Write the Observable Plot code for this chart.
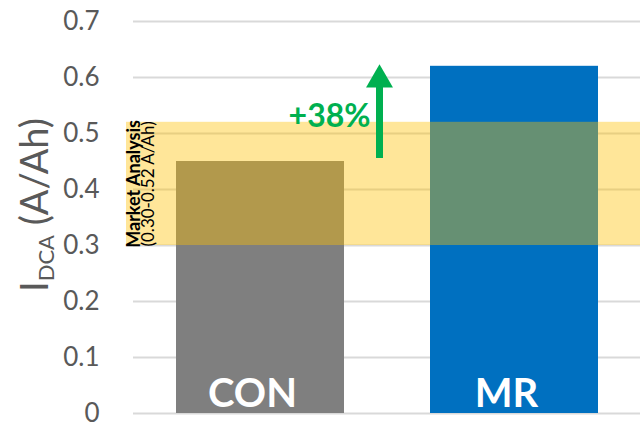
<!DOCTYPE html>
<html>
<head>
<meta charset="utf-8">
<script src="https://cdn.jsdelivr.net/npm/d3@7"></script>
<script src="https://cdn.jsdelivr.net/npm/@observablehq/plot@0.6"></script>
<style>
  html, body { margin: 0; padding: 0; background: #ffffff; }
  #chart { width: 640px; height: 428px; }
</style>
</head>
<body>
<div id="chart"></div>
<script>
// ---- data ----
const categories = ["CON", "MR"];
const values = [0.45, 0.62];
const marketRange = [0.30, 0.52];
const marketLabel = ["Market Analysis", "(0.30-0.52 A/Ah)"];
const yTicks = [0, 0.1, 0.2, 0.3, 0.4, 0.5, 0.6, 0.7];
const yTickLabels = ["0", "0.1", "0.2", "0.3", "0.4", "0.5", "0.6", "0.7"];
const increaseLabel = "+38%";
const increaseFrom = 0.45;
const increaseTo = 0.62;

// ---- styles ----
const barColors = ["#7f7f7f", "#0070c0"];
const green = "#00b050";
const font = "Lato, 'Open Sans', sans-serif";

const bars = categories.map((c, i) => ({category: c, value: values[i]}));
const band = [{lo: marketRange[0], hi: marketRange[1]}];
const arrow = [{category: categories[0], from: increaseFrom, to: increaseTo, label: increaseLabel}];

const plot = Plot.plot({
  width: 640,
  height: 428,
  marginTop: 21,
  marginBottom: 15,
  marginLeft: 133,
  marginRight: 0,
  style: {fontFamily: font, background: "white", overflow: "visible"},
  x: {domain: categories, paddingInner: 0.339, paddingOuter: 0.165, axis: null},
  y: {domain: [0, 0.7], axis: null},
  color: {domain: categories, range: barColors},
  marks: [
    Plot.gridY(yTicks, {stroke: "#d9d9d9", strokeOpacity: 1, strokeWidth: 2}),
    Plot.axisY(yTicks, {
      tickSize: 0, tickPadding: 34, fontSize: 26, fill: "#595959",
      tickFormat: (d) => yTickLabels[yTicks.indexOf(d)]
    }),
    Plot.barY(bars, {x: "category", y: "value", fill: "category"}),
    Plot.rectY(band, {y1: "lo", y2: "hi", fill: "#ffc000", fillOpacity: 0.4, insetLeft: -7}),
    Plot.text(band, {
      y: (d) => (d.lo + d.hi) / 2, frameAnchor: "left", textAnchor: "middle",
      text: () => marketLabel[0],
      rotate: -90, fontSize: 18, fontWeight: "bold", fill: "#000", dx: 0.5
    }),
    Plot.text(band, {
      y: (d) => (d.lo + d.hi) / 2, frameAnchor: "left", textAnchor: "middle",
      text: () => marketLabel[1],
      rotate: -90, fontSize: 17, fill: "#000", dx: 15
    }),
    Plot.text(bars, {
      x: "category", y: 0, text: "category", fill: "white", fontSize: 40,
      fontWeight: "bold", dy: -19, dx: -8
    }),
    Plot.ruleX(arrow, {
      x: "category", y1: "to", y2: "from", stroke: green, strokeWidth: 7,
      dx: 119, insetTop: 20, insetBottom: 3
    }),
    Plot.dot(arrow, {
      x: "category", y: "to", symbol: "triangle", r: 10, fill: green, stroke: null,
      dx: 119, dy: 13.5
    }),
    Plot.text(arrow, {
      x: "category", y: (d) => (d.from + d.to) / 2, text: "label", fill: green,
      fontSize: 32, fontWeight: "bold", textAnchor: "end", dx: 110, dy: 3
    })
  ]
});

// y-axis title with subscript
const svg = d3.select(plot);
const t = svg.append("text")
  .attr("transform", "translate(48,205) rotate(-90)")
  .attr("text-anchor", "middle")
  .attr("fill", "#595959")
  .attr("font-family", font)
  .attr("font-size", 38);
t.append("tspan").text("I");
t.append("tspan").attr("font-size", 22).attr("dy", 6).text("DCA");
t.append("tspan").attr("dy", -6).text(" (A/Ah)");

document.getElementById("chart").appendChild(plot);
</script>
</body>
</html>
